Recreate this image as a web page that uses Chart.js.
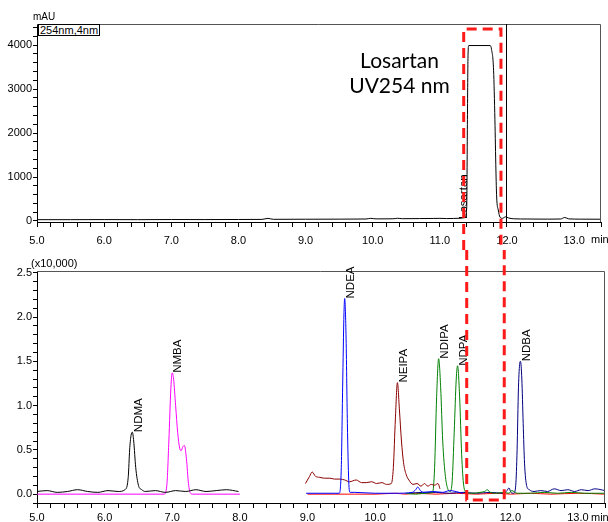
<!DOCTYPE html>
<html>
<head>
<meta charset="utf-8">
<script src="https://cdn.jsdelivr.net/npm/chart.js@4.4.1/dist/chart.umd.min.js"></script>
<style>
  body { margin: 0; background: #fff; }
  #wrap { position: relative; width: 608px; height: 522px; font-family: "Liberation Sans", Arial, sans-serif; color: #000; }
  #uvBox { position: absolute; left: 0; top: 0; }
  #msBox { position: absolute; left: 0; top: 250px; }
  .txt { position: absolute; font-size: 10px; line-height: 11px; white-space: nowrap; }
  #unitUv { left: 33px; top: 11px; }
  #channel { left: 38px; top: 24px; border: 1px solid #000; background: #fff; padding: 0 1px; font-size: 11px; line-height: 10px; }
  #unitMs { left: 31px; top: 258px; font-size: 11px; }
  #minUv { left: 591px; top: 234px; font-size: 11px; }
  #minMs { left: 591px; top: 512px; font-size: 11px; }
  #note { position: absolute; left: 332px; top: 47px; width: 135px; text-align: center; font-family: Lato, "Open Sans", sans-serif; font-size: 21px; line-height: 25px; }
</style>
</head>
<body>
<div id="wrap">
  <div id="uvBox"><canvas id="uvChart" width="608" height="250"></canvas></div>
  <div id="msBox"><canvas id="msChart" width="608" height="272"></canvas></div>
  <div class="txt" id="unitUv">mAU</div>
  <div class="txt" id="channel">254nm,4nm</div>
  <div class="txt" id="unitMs">(x10,000)</div>
  <div class="txt" id="minUv">min</div>
  <div class="txt" id="minMs">min</div>
  <div id="note">Losartan<br>UV254 nm</div>
</div>
<script>
// axis labels
const xTickLabels = ["5.0", "6.0", "7.0", "8.0", "9.0", "10.0", "11.0", "12.0", "13.0"]
const uvTickLabels = ["0", "1000", "2000", "3000", "4000"]
const msTickLabels = ["0.0", "0.5", "1.0", "1.5", "2.0", "2.5"]

// UV 254 nm trace (mAU)
const uvTime = [5.0, 5.5, 6.0, 6.5, 7.0, 7.5, 8.0, 8.35, 8.44, 8.52, 9.0, 9.5, 9.9, 9.97, 10.05, 10.3, 10.37, 10.44, 10.7, 10.9, 11.0, 11.1, 11.2, 11.3, 11.37, 11.4, 11.41, 11.42, 11.43, 11.75, 11.77, 11.8, 11.82, 11.835, 11.846, 11.87, 11.895, 11.93, 11.98, 12.02, 12.1, 12.3, 12.6, 12.8, 12.86, 12.92, 13.1, 13.4]
const uvValue = [30, 30, 32, 30, 33, 32, 34, 36, 60, 38, 40, 42, 45, 60, 48, 50, 62, 52, 55, 58, 60, 55, 58, 62, 75, 300, 2200, 3800, 3990, 3990, 3900, 3430, 2300, 1160, 545, 250, 90, 60, 95, 70, 50, 45, 42, 45, 80, 48, 42, 40]

// MS traces (x10,000)
const ndmaTime = [5.0, 5.15, 5.3, 5.45, 5.6, 5.75, 5.9, 6.05, 6.2, 6.3, 6.35, 6.37, 6.39, 6.41, 6.43, 6.46, 6.5, 6.55, 6.6, 6.75, 6.9, 7.05, 7.2, 7.35, 7.5, 7.65, 7.8, 7.98]
const ndmaValue = [0.03, 0.04, 0.02, 0.03, 0.05, 0.03, 0.02, 0.04, 0.03, 0.05, 0.2, 0.5, 0.66, 0.70, 0.6, 0.3, 0.1, 0.05, 0.03, 0.04, 0.02, 0.04, 0.03, 0.05, 0.03, 0.04, 0.05, 0.03]

const nmbaTime = [5.0, 6.88, 6.92, 6.95, 6.98, 7.0, 7.02, 7.05, 7.08, 7.11, 7.13, 7.16, 7.18, 7.21, 7.24, 7.27, 7.3, 8.0]
const nmbaValue = [0.0, 0.0, 0.1, 0.6, 1.2, 1.37, 1.3, 1.0, 0.7, 0.52, 0.49, 0.54, 0.55, 0.4, 0.12, 0.01, 0.0, 0.0]

const ndeaTime = [8.98, 9.2, 9.47, 9.5, 9.52, 9.54, 9.55, 9.57, 9.59, 9.61, 9.63, 9.7, 10.0, 10.3, 10.55, 10.6, 10.63, 10.67, 10.72, 10.85, 11.0, 11.1, 11.3]
const ndeaValue = [0.01, 0.01, 0.01, 0.3, 1.2, 2.05, 2.21, 1.8, 0.8, 0.15, 0.02, 0.02, 0.01, 0.01, 0.02, 0.05, 0.08, 0.04, 0.02, 0.03, 0.02, 0.04, 0.01]

const neipaTime = [8.97, 9.03, 9.07, 9.12, 9.18, 9.25, 9.33, 9.4, 9.48, 9.55, 9.62, 9.72, 9.8, 9.87, 9.95, 10.02, 10.1, 10.17, 10.24, 10.27, 10.3, 10.33, 10.36, 10.39, 10.42, 10.46, 10.5, 10.56, 10.62, 10.68, 10.73, 10.78, 10.83, 10.88, 10.93, 10.96]
const neipaValue = [0.12, 0.2, 0.25, 0.2, 0.19, 0.18, 0.18, 0.17, 0.17, 0.16, 0.14, 0.16, 0.13, 0.13, 0.14, 0.12, 0.13, 0.11, 0.12, 0.3, 0.85, 1.26, 0.95, 0.6, 0.36, 0.22, 0.16, 0.11, 0.12, 0.09, 0.12, 0.09, 0.11, 0.1, 0.12, 0.06]

const ndipaTime = [10.45, 10.6, 10.75, 10.85, 10.88, 10.91, 10.94, 10.97, 11.0, 11.04, 11.08, 11.11, 11.14, 11.17, 11.2, 11.22, 11.25, 11.28, 11.31, 11.35, 11.45, 11.55, 11.62, 11.66, 11.7, 11.8, 11.9, 11.98, 12.02, 12.1, 12.3, 12.5, 12.7, 12.9, 13.1, 13.4]
const ndipaValue = [0.01, 0.0, 0.01, 0.02, 0.3, 1.1, 1.53, 1.2, 0.6, 0.2, 0.05, 0.03, 0.15, 0.7, 1.3, 1.45, 1.1, 0.45, 0.1, 0.02, 0.01, 0.02, 0.03, 0.05, 0.02, 0.01, 0.02, 0.01, 0.04, 0.01, 0.01, 0.02, 0.01, 0.02, 0.01, 0.01]

const ndbaTime = [10.5, 10.7, 10.9, 11.1, 11.3, 11.5, 11.7, 11.9, 11.95, 11.98, 12.01, 12.05, 12.08, 12.1, 12.12, 12.14, 12.15, 12.17, 12.19, 12.21, 12.24, 12.28, 12.35, 12.45, 12.55, 12.65, 12.75, 12.85, 12.95, 13.05, 13.15, 13.25, 13.4]
const ndbaValue = [0.01, 0.02, 0.02, 0.01, 0.02, 0.01, 0.02, 0.01, 0.04, 0.07, 0.02, 0.01, 0.1, 0.5, 1.2, 1.48, 1.5, 1.3, 0.8, 0.35, 0.1, 0.05, 0.03, 0.04, 0.03, 0.06, 0.04, 0.05, 0.03, 0.05, 0.04, 0.06, 0.04]

const otherTime = [9.0, 9.4, 9.7, 10.0, 10.3, 10.45, 10.6, 10.9, 11.2, 11.5, 11.8, 12.0, 12.3, 12.6, 13.0, 13.4]
const otherValue = [0.0, 0.0, 0.0, 0.0, 0.01, 0.0, 0.01, 0.0, 0.01, 0.0, 0.01, 0.0, 0.01, 0.0, 0.01, 0.0]

// peak labels
const uvPeakNames = ["Losartan"]
const uvPeakTimes = [11.36]
const uvPeakHeights = [45]
const msPeakNames = ["NDMA", "NMBA", "NDEA", "NEIPA", "NDIPA", "NDPA", "NDBA"]
const msPeakTimes = [6.41, 7.0, 9.55, 10.33, 10.94, 11.22, 12.15]
const msPeakHeights = [0.70, 1.37, 2.21, 1.26, 1.53, 1.45, 1.50]

// highlight box and cursor (minutes)
const boxFrom = 11.355
const boxTo = 11.91
const cursorTime = 11.98

function pts(ts, vs) {
  return ts.map((t, i) => ({ x: t, y: vs[i] }))
}

function line(label, ts, vs, color, order) {
  return {
    label: label,
    data: pts(ts, vs),
    borderColor: color,
    borderWidth: 1,
    pointRadius: 0,
    cubicInterpolationMode: "monotone",
    order: order,
  }
}

const tickFont = { family: "Liberation Sans", size: 11 }

function xScale(pad, h) {
  return {
    type: "linear",
    min: 5.0,
    max: 13.4,
    ticks: {
      stepSize: 0.2,
      includeBounds: false,
      autoSkip: false,
      maxRotation: 0,
      padding: pad,
      color: "#000",
      font: tickFont,
      callback: (v) => {
        const i = Math.round(v) - 5
        return Math.abs(v - Math.round(v)) < 1e-6 && xTickLabels[i] ? xTickLabels[i] : ""
      },
    },
    grid: { drawOnChartArea: false, tickLength: 5, color: "#000" },
    border: { color: "#000" },
    afterFit: (s) => { s.height = h },
  }
}

function yScale(min, max, step, labels, every) {
  return {
    min: min,
    max: max,
    ticks: {
      stepSize: step,
      includeBounds: false,
      autoSkip: false,
      padding: 1,
      color: "#000",
      font: tickFont,
      callback: (v) => {
        const k = v / every
        return Math.abs(k - Math.round(k)) < 1e-6 && labels[Math.round(k)] ? labels[Math.round(k)] : ""
      },
    },
    grid: { drawOnChartArea: false, tickLength: 4, color: "#000" },
    border: { color: "#000" },
    afterFit: (s) => { s.width = 37 },
  }
}

// frame, cursor, peak names and the red dashed box
const decor = {
  id: "decor",
  afterDraw(chart, args, o) {
    const { ctx, chartArea: a } = chart
    const x = chart.scales.x
    const y = chart.scales.y
    ctx.save()
    ctx.strokeStyle = "#555"
    ctx.lineWidth = 1
    ctx.beginPath()
    ctx.moveTo(a.left, a.top + 0.5)
    ctx.lineTo(a.right - 0.5, a.top + 0.5)
    ctx.lineTo(a.right - 0.5, a.bottom)
    ctx.stroke()

    if (o.cursor) {
      const cx = Math.round(x.getPixelForValue(o.cursor)) + 0.5
      ctx.strokeStyle = "#000"
      ctx.beginPath()
      ctx.moveTo(cx, a.top)
      ctx.lineTo(cx, a.bottom)
      ctx.stroke()
    }

    ctx.fillStyle = "#000"
    ctx.font = '11.5px "Liberation Sans"'
    ctx.textAlign = "left"
    ctx.textBaseline = "middle"
    o.names.forEach((n, i) => {
      ctx.save()
      ctx.translate(x.getPixelForValue(o.times[i]) + o.shift, y.getPixelForValue(o.heights[i]))
      ctx.rotate(-Math.PI / 2)
      ctx.fillText(n, 0, 0)
      ctx.restore()
    })

    const l = x.getPixelForValue(boxFrom)
    const r = x.getPixelForValue(boxTo)
    const e = y.getPixelForValue(o.boxEdge)
    const far = o.boxSide === "top" ? chart.height : 0
    ctx.strokeStyle = "#ff1a1a"
    ctx.lineWidth = 3
    ctx.setLineDash([10, 6])
    ctx.beginPath()
    ctx.moveTo(l, far)
    ctx.lineTo(l, e)
    ctx.lineTo(r, e)
    ctx.lineTo(r, far)
    ctx.stroke()
    ctx.restore()
  },
}

const common = {
  responsive: false,
  animation: false,
  events: [],
  plugins: { legend: { display: false }, tooltip: { enabled: false } },
}

new Chart(document.querySelector("#uvChart"), {
  type: "line",
  data: { datasets: [line("UV 254nm", uvTime, uvValue, "#000", 1)] },
  options: {
    ...common,
    layout: { padding: { top: 24, right: 3, bottom: 0, left: 0 } },
    scales: { x: xScale(7, 28), y: yScale(-23, 4480, 200, uvTickLabels, 1000) },
    plugins: {
      ...common.plugins,
      decor: { cursor: cursorTime, names: uvPeakNames, times: uvPeakTimes, heights: uvPeakHeights, shift: 0, boxSide: "top", boxEdge: 4367 },
    },
  },
  plugins: [decor],
})

new Chart(document.querySelector("#msChart"), {
  type: "line",
  data: {
    datasets: [
      line("NDMA", ndmaTime, ndmaValue, "#000000", 2),
      line("NMBA", nmbaTime, nmbaValue, "#ff00ff", 3),
      line("NDEA", ndeaTime, ndeaValue, "#0000ff", 1),
      line("NEIPA", neipaTime, neipaValue, "#8b0000", 4),
      line("NDIPA/NDPA", ndipaTime, ndipaValue, "#008000", 5),
      line("NDBA", ndbaTime, ndbaValue, "#000080", 6),
      line("other", otherTime, otherValue, "#ff0000", 9),
    ],
  },
  options: {
    ...common,
    layout: { padding: { top: 21, right: 3, bottom: 0, left: 0 } },
    scales: { x: xScale(3, 19), y: yScale(-0.1, 2.52, 0.1, msTickLabels, 0.5) },
    plugins: {
      ...common.plugins,
      decor: { cursor: null, names: msPeakNames, times: msPeakTimes, heights: msPeakHeights, shift: 6, boxSide: "bottom", boxEdge: -0.065 },
    },
  },
  plugins: [decor],
})
</script>
</body>
</html>
